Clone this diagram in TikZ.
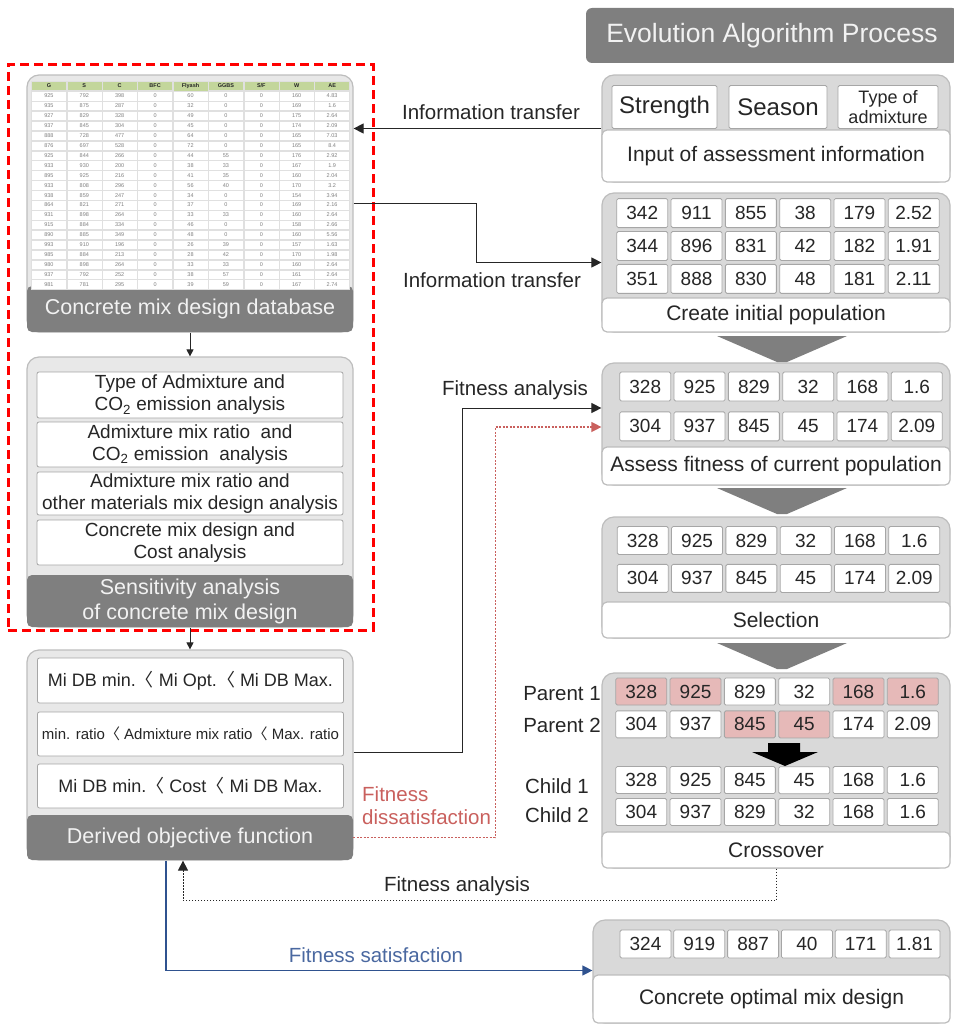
\documentclass[tikz,border=0pt]{standalone}
\usepackage{fontspec}
\setmainfont{Liberation Sans}
\newfontfamily\krfont{Noto Sans CJK KR}
\usetikzlibrary{matrix,positioning,arrows.meta}

\definecolor{bargray}{HTML}{7F7F7F}
\definecolor{barwhite}{HTML}{F2F2F2}
\definecolor{panelgray}{HTML}{D9D9D9}
\definecolor{leftgray}{HTML}{E8E8E8}
\definecolor{edgegray}{HTML}{BDBDBD}
\definecolor{cellgray}{HTML}{A6A6A6}
\definecolor{gridgray}{HTML}{E0E0E0}
\definecolor{numgray}{HTML}{808080}
\definecolor{pinkcell}{HTML}{E6B9B8}
\definecolor{headgreen}{HTML}{C3D69B}
\definecolor{txtdark}{HTML}{262626}
\definecolor{dissred}{HTML}{C9605D}
\definecolor{satblue}{HTML}{2F528F}
\definecolor{satlabel}{HTML}{4A68A0}

\newcommand{\ltmark}{{\krfont 〈}\ }

\begin{document}
\begin{tikzpicture}[x=1pt,y=-1pt]
    \tikzstyle{panel} = [rectangle, draw=edgegray, line width=1.2pt, fill=panelgray,
               rounded corners=12pt, inner sep=0pt, minimum width=348pt]
    \tikzstyle{lpanel} = [panel, fill=leftgray, minimum width=326pt]
    \tikzstyle{darkbar} = [rectangle, fill=bargray, rounded corners=5pt, inner sep=0pt,
               align=center, text=barwhite, font=\fontsize{21.5}{25}\selectfont]
    \tikzstyle{footbar} = [rectangle, draw=edgegray, line width=1.2pt, fill=white,
               rounded corners=5pt, inner sep=0pt, minimum width=348pt,
               text=txtdark, font=\fontsize{21}{25}\selectfont]
    \tikzstyle{task} = [rectangle, draw=cellgray, line width=0.8pt, fill=white,
               rounded corners=2pt, inner sep=0pt, align=center, minimum width=306pt,
               text=txtdark, font=\fontsize{19}{22}\selectfont]
    \tikzstyle{cell} = [rectangle, draw=cellgray, line width=0.8pt, fill=white,
               rounded corners=1.5pt, inner sep=0pt, minimum width=51pt,
               minimum height=29pt, text=txtdark, font=\fontsize{19}{22}\selectfont]
    \tikzstyle{picked} = [fill=pinkcell]
    \tikzstyle{dbcell} = [rectangle, draw=gridgray, line width=0.4pt, fill=white,
               inner sep=0pt, minimum width=35pt, minimum height=9.5pt,
               text=numgray, font=\fontsize{5.5}{6}\selectfont]
    \tikzstyle{line} = [draw=txtdark, line width=1pt, -{Triangle[length=10pt,width=10pt]}]
    \tikzstyle{linktext} = [text=txtdark, inner sep=0pt, font=\fontsize{20.5}{24}\selectfont]

    \useasboundingbox (0,0) rectangle (953,1025);

    % Left column: database
    \node [lpanel, minimum height=257pt] (dbpanel) at (190,203.5) {};
    \node [darkbar, minimum width=326pt, minimum height=46pt] (dbbar) at (190,309)
      {Concrete mix design database};
    \matrix [matrix of nodes,
      nodes=dbcell,
      column sep=0pt,
      row sep=0pt,
      row 1/.style={nodes={fill=headgreen, text=txtdark, font=\fontsize{5.5}{6}\selectfont\bfseries}}
    ] (dbtable) at (190.5,185) {
      G & S & C & BFC & Flyash & GGBS & S/F & W & AE \\
      925 & 792 & 398 & 0 & 60 & 0 & 0 & 160 & 4.83 \\
      935 & 875 & 287 & 0 & 32 & 0 & 0 & 169 & 1.6 \\
      927 & 829 & 328 & 0 & 49 & 0 & 0 & 175 & 2.64 \\
      937 & 845 & 304 & 0 & 45 & 0 & 0 & 174 & 2.09 \\
      888 & 728 & 477 & 0 & 64 & 0 & 0 & 165 & 7.03 \\
      876 & 697 & 528 & 0 & 72 & 0 & 0 & 165 & 8.4 \\
      925 & 844 & 266 & 0 & 44 & 55 & 0 & 176 & 2.92 \\
      933 & 930 & 200 & 0 & 38 & 33 & 0 & 167 & 1.9 \\
      895 & 925 & 216 & 0 & 41 & 35 & 0 & 160 & 2.04 \\
      933 & 808 & 296 & 0 & 56 & 40 & 0 & 170 & 3.2 \\
      938 & 859 & 247 & 0 & 34 & 0 & 0 & 154 & 3.94 \\
      864 & 821 & 271 & 0 & 37 & 0 & 0 & 169 & 2.16 \\
      931 & 898 & 264 & 0 & 33 & 33 & 0 & 160 & 2.64 \\
      915 & 884 & 334 & 0 & 46 & 0 & 0 & 158 & 2.66 \\
      890 & 885 & 349 & 0 & 48 & 0 & 0 & 160 & 5.56 \\
      993 & 910 & 196 & 0 & 26 & 39 & 0 & 157 & 1.63 \\
      985 & 884 & 213 & 0 & 28 & 42 & 0 & 170 & 1.98 \\
      980 & 898 & 264 & 0 & 33 & 33 & 0 & 160 & 2.64 \\
      937 & 792 & 252 & 0 & 38 & 57 & 0 & 161 & 2.64 \\
      981 & 781 & 295 & 0 & 39 & 59 & 0 & 167 & 2.74 \\
    };

    % Left column: sensitivity analysis
    \node [lpanel, minimum height=270pt] (senspanel) at (190,492) {};
    \node [task, minimum height=46pt] (sens1) at (190,395)
      {Type of Admixture and\\CO\textsubscript{2} emission analysis};
    \node [task, minimum height=45pt] (sens2) at (190,444.5)
      {Admixture mix ratio \ and\\CO\textsubscript{2} emission \ analysis};
    \node [task, minimum height=43pt] (sens3) at (190,493.5)
      {Admixture mix ratio and\\other materials mix design analysis};
    \node [task, minimum height=45pt] (sens4) at (190,542.5)
      {Concrete mix design and\\Cost analysis};
    \node [darkbar, minimum width=326pt, minimum height=52pt] (sensbar) at (190,601)
      {Sensitivity analysis\\of concrete mix design};

    % Left column: objective function
    \node [lpanel, minimum height=210pt] (objpanel) at (190,755) {};
    \node [task, minimum height=45pt, font=\fontsize{18}{22}\selectfont] (obj1) at (190.5,680.5)
      {Mi DB min.\ltmark Mi Opt.\ltmark Mi DB Max.};
    \node [task, minimum height=44pt, font=\fontsize{15}{18}\selectfont] (obj2) at (190.5,734)
      {min. ratio\ltmark Admixture mix ratio\ltmark Max. ratio};
    \node [task, minimum height=44pt, font=\fontsize{18}{22}\selectfont] (obj3) at (190.5,786)
      {Mi DB min.\ltmark Cost\ltmark Mi DB Max.};
    \node [darkbar, minimum width=326pt, minimum height=45pt] (objbar) at (190,837.5)
      {Derived objective function};

    \node [draw=red, line width=3pt, dash pattern=on 9pt off 5pt, minimum width=365pt,
      minimum height=565pt] (focus) at (190.5,347.5) {};

    % Right column
    \node [darkbar, rounded corners=6pt, minimum width=372pt, minimum height=55pt,
      font=\fontsize{26.5}{30}\selectfont] (title) at (772,35.5) {Evolution Algorithm Process};

    \node [panel, minimum height=107pt] (inputpanel) at (776,128.5) {};
    \node [footbar, minimum height=52pt] (inputbar) at (776,156) {Input of assessment information};
    \node [cell, minimum width=105pt, minimum height=43pt, font=\fontsize{24}{26}\selectfont]
      (strength) at (664.5,107) {Strength};
    \node [cell, minimum width=98pt, minimum height=43pt, font=\fontsize{24}{26}\selectfont]
      (season) at (778,107) {Season};
    \node [cell, minimum width=100pt, minimum height=43pt, align=center,
      font=\fontsize{18}{20}\selectfont] (admix) at (888,107) {Type of\\admixture};

    \node [panel, minimum height=139pt] (initpanel) at (776,262.5) {};
    \node [footbar, minimum height=34pt] (initbar) at (776,315) {Create initial population};
    \matrix [matrix of nodes, nodes=cell, column sep=2.5pt, row sep=3pt] (init) at (778,246) {
      342 & 911 & 855 & 38 & 179 & 2.52 \\
      344 & 896 & 831 & 42 & 182 & 1.91 \\
      351 & 888 & 830 & 48 & 181 & 2.11 \\
    };

    \node [panel, minimum height=122pt] (assesspanel) at (776,424) {};
    \node [footbar, minimum height=38pt] (assessbar) at (776,466) {Assess fitness of current population};
    \matrix [matrix of nodes, nodes=cell, column sep=2.5pt, row sep=10pt] (assess) at (781,406.5) {
      328 & 925 & 829 & 32 & 168 & 1.6 \\
      304 & 937 & 845 & 45 & 174 & 2.09 \\
    };

    \node [panel, minimum height=121pt] (selpanel) at (776,577.5) {};
    \node [footbar, minimum height=36pt] (selbar) at (776,620) {Selection};
    \matrix [matrix of nodes, nodes={cell, minimum height=28pt}, column sep=2.5pt, row sep=9pt]
      (select) at (778.5,559.5) {
      328 & 925 & 829 & 32 & 168 & 1.6 \\
      304 & 937 & 845 & 45 & 174 & 2.09 \\
    };

    \node [panel, minimum height=195pt] (crosspanel) at (776,770.5) {};
    \node [footbar, minimum height=36pt] (crossbar) at (776,850) {Crossover};
    \matrix [matrix of nodes, nodes={cell, minimum height=27pt}, column sep=2.5pt, row sep=5pt]
      (parents) at (777,708) {
      |[picked]| 328 & |[picked]| 925 & 829 & 32 & |[picked]| 168 & |[picked]| 1.6 \\
      304 & 937 & |[picked]| 845 & |[picked]| 45 & 174 & 2.09 \\
    };
    \matrix [matrix of nodes, nodes={cell, minimum height=27pt}, column sep=2.5pt, row sep=4pt]
      (children) at (777,796) {
      328 & 925 & 845 & 45 & 168 & 1.6 \\
      304 & 937 & 829 & 32 & 168 & 1.6 \\
    };
    \fill [black] (768,743) -- (800,743) -- (800,752) -- (818,752) -- (785,766)
      -- (752,752) -- (768,752) -- cycle;
    \node [linktext] (parent1) at (562,694) {Parent 1};
    \node [linktext] (parent2) at (562,725) {Parent 2};
    \node [linktext] (child1) at (557,786) {Child 1};
    \node [linktext] (child2) at (557,815) {Child 2};

    \node [panel, minimum width=357pt, minimum height=103pt] (optpanel) at (771.5,971.5) {};
    \node [footbar, minimum width=357pt, minimum height=48pt] (optbar) at (771.5,999)
      {Concrete optimal mix design};
    \matrix [matrix of nodes, nodes={cell, minimum height=28pt}, column sep=2pt]
      (best) at (780,944) {
      324 & 919 & 887 & 40 & 171 & 1.81 \\
    };

    % chevrons between the steps
    \foreach \ytop in {336,488,643}
      \fill [bargray] (717,\ytop) -- (847,\ytop) -- (787,\ytop+26) -- (777,\ytop+26) -- cycle;

    % connectors
    \draw [line, line width=0.8pt, -{Triangle[length=7pt,width=7pt]}] (dbpanel.south) -- (senspanel.north);
    \draw [line, line width=0.8pt, -{Triangle[length=7pt,width=7pt]}] (senspanel.south) -- (objpanel.north);

    \draw [line] (inputpanel.west) -- (inputpanel.west -| dbpanel.east);
    \node [linktext] (infotop) at (491,112) {Information transfer};

    \draw [line] (dbpanel.east) -- ++(123,0) |- (initpanel.west);
    \node [linktext] (infolow) at (492,280) {Information transfer};

    \draw [line] ([yshift=3pt]objpanel.east) -- ++(109,0) |- ([yshift=16pt]assesspanel.west);
    \node [linktext] (fitup) at (515,390) {Fitness analysis};

    \draw [line, draw=dissred, line width=1.3pt, dash pattern=on 2pt off 1.5pt,
      -{Triangle[length=10pt,width=10pt,fill=dissred]}]
      (objbar.east) -- ++(142,0) |- ([yshift=-3pt]assesspanel.west);
    \node [linktext, text=dissred, align=left, anchor=west,
      font=\fontsize{20.5}{23}\selectfont] (dissat) at (362,806) {Fitness\\dissatisfaction};

    \draw [line, dash pattern=on 1.5pt off 1.5pt] (crosspanel.south) -- ++(0,32) -| ([xshift=-7pt]objpanel.south);
    \node [linktext] (fitback) at (457,886) {Fitness analysis};

    \draw [line, draw=satblue, line width=1.2pt, -{Triangle[length=10pt,width=10pt,fill=satblue]}]
      ([xshift=-24pt]objpanel.south) |- ([yshift=1pt]optpanel.west);
    \node [linktext, text=satlabel] (satis) at (376,955) {Fitness satisfaction};

  \end{tikzpicture}
\end{document}
